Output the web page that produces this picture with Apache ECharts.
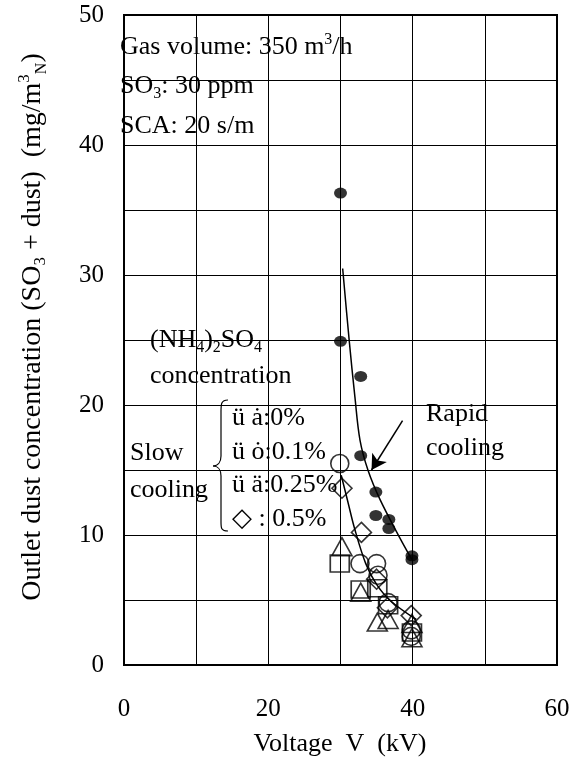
<!DOCTYPE html>
<html>
<head>
<meta charset="utf-8">
<script src="https://cdn.jsdelivr.net/npm/echarts@6/dist/echarts.min.js"></script>
<style>
  html, body { margin: 0; padding: 0; background: #fff; }
  #chart { width: 573px; height: 764px; }
</style>
</head>
<body>
<div id="chart"></div>
<script>
// Axis ticks
const xTickLabels = [0, 20, 40, 60];
const yTickLabels = [0, 10, 20, 30, 40, 50];

// Rapid cooling: measured points (voltage kV, outlet concentration mg/m3N)
const rapidV = [30, 30, 32.8, 32.8, 34.9, 34.9, 36.7, 36.7, 39.9, 39.9];
const rapidC = [36.3, 24.9, 22.2, 16.1, 13.3, 11.5, 11.2, 10.5, 8.4, 8.1];
// Rapid cooling trend curve
const rapidFitV = [30.3, 31.2, 32.0, 32.7, 33.8, 35.5, 38.2, 39.9];
const rapidFitC = [30.5, 25.0, 20.6, 17.3, 15.0, 12.7, 9.8, 8.1];

// Slow cooling, by (NH4)2SO4 concentration
const circleV = [29.9, 32.7, 35.0, 35.2, 36.6, 39.8, 39.8];   // 0%
const circleC = [15.5, 7.8, 7.8, 6.9, 4.8, 2.7, 2.2];
const squareV = [29.9, 32.8, 35.1, 36.6, 39.9];               // 0.1%
const squareC = [7.8, 5.8, 5.9, 4.6, 2.5];
const triV = [30.2, 32.8, 35.1, 36.6, 39.9, 39.9];            // 0.25%
const triC = [9.1, 5.6, 3.3, 3.5, 3.2, 2.1];
const diaV = [30.2, 32.9, 35.0, 36.5, 39.8];                  // 0.5%
const diaC = [13.6, 10.2, 6.6, 4.4, 3.8];
// Slow cooling trend curve
const slowFitV = [30.1, 31.0, 32.0, 33.5, 35.0, 37.0, 40.5];
const slowFitC = [14.6, 12.6, 10.4, 7.8, 6.2, 4.9, 3.5];

// Pointer from the "Rapid cooling" note to the curve
const arrowFrom = [38.6, 18.8];
const arrowTo = [34.3, 15.0];

const zip = (a, b) => a.map((v, i) => [v, b[i]]);
const FONT = '"Liberation Serif", "Times New Roman", serif';
const FS = 26;

const hollow = { color: 'rgba(0,0,0,0)', borderColor: '#000', borderWidth: 1.6 };

const chart = echarts.init(document.getElementById('chart'), null, { renderer: 'canvas' });

function richSet(size) {
  const small = Math.round(size * 0.6);
  return {
    a: { fontFamily: FONT, fontSize: size, color: '#000', lineHeight: size + 5 },
    sup: { fontFamily: FONT, fontSize: small, color: '#000', lineHeight: small, verticalAlign: 'top' },
    sub: { fontFamily: FONT, fontSize: small, color: '#000', lineHeight: small, verticalAlign: 'bottom' }
  };
}
const richBase = richSet(FS);

function note(x, y, text, extra) {
  return {
    type: 'text', x: x, y: y, z: 50,
    style: Object.assign({
      text: text, fontFamily: FONT, fontSize: FS, fill: '#000',
      align: 'left', verticalAlign: 'middle', rich: richBase
    }, extra || {})
  };
}

// Curly brace grouping the slow-cooling key entries
const braceStroke = { fill: 'none', stroke: '#000', lineWidth: 1.2 };
function bez(x1, y1, cx1, cy1, cx2, cy2, x2, y2) {
  return { type: 'bezierCurve', z: 50, shape: { x1, y1, cpx1: cx1, cpy1: cy1, cpx2: cx2, cpy2: cy2, x2, y2 }, style: braceStroke };
}
function seg(x1, y1, x2, y2) {
  return { type: 'line', z: 50, shape: { x1, y1, x2, y2 }, style: braceStroke };
}
const brace = [
  bez(228, 400, 221, 400, 221, 404, 221, 412),
  seg(221, 412, 221, 456),
  bez(221, 456, 221, 462, 218, 466, 213, 466),
  bez(213, 466, 218, 466, 221, 470, 221, 476),
  seg(221, 476, 221, 522),
  bez(221, 522, 221, 528, 221, 531, 228, 531)
];

const yTitleRich = richSet(28);
yTitleRich.subn = { fontFamily: FONT, fontSize: 16, color: '#000', lineHeight: 16, verticalAlign: 'bottom' };

const option = {
  animation: false,
  backgroundColor: '#fff',
  grid: { left: 124, right: 16, top: 15, bottom: 99, show: true, borderColor: '#000', borderWidth: 2 },
  xAxis: {
    type: 'value', min: 0, max: 60, interval: 10,
    axisLine: { show: true, onZero: false, lineStyle: { color: '#000', width: 2 } },
    axisTick: { show: false },
    splitLine: { show: true, lineStyle: { color: '#000', width: 1 } },
    axisLabel: {
      fontFamily: FONT, fontSize: 25, color: '#000', margin: 32,
      formatter: v => (xTickLabels.indexOf(v) >= 0 ? String(v) : '')
    }
  },
  yAxis: {
    type: 'value', min: 0, max: 50, interval: 5,
    axisLine: { show: true, onZero: false, lineStyle: { color: '#000', width: 2 } },
    axisTick: { show: false },
    splitLine: { show: true, lineStyle: { color: '#000', width: 1 } },
    axisLabel: {
      fontFamily: FONT, fontSize: 25, color: '#000', margin: 20,
      formatter: v => (yTickLabels.indexOf(v) >= 0 ? String(v) : '')
    }
  },
  series: [
    {
      name: 'rapid-fit', type: 'line', data: zip(rapidFitV, rapidFitC), smooth: 0.35,
      symbol: 'none', lineStyle: { color: '#000', width: 1.5 }, z: 3,
      markLine: {
        silent: true, symbol: ['none', 'arrow'], symbolSize: [13, 15],
        label: { show: false },
        lineStyle: { color: '#000', width: 1.5, type: 'solid' },
        data: [[{ coord: arrowFrom }, { coord: arrowTo }]]
      }
    },
    {
      name: 'slow-fit', type: 'line', data: zip(slowFitV, slowFitC), smooth: 0.35,
      symbol: 'none', lineStyle: { color: '#000', width: 1.5 }, z: 3
    },
    {
      name: 'rapid', type: 'scatter', data: zip(rapidV, rapidC),
      symbol: 'circle', symbolSize: [13, 11], itemStyle: { color: '#000' }, z: 5
    },
    {
      name: '0%', type: 'scatter', data: zip(circleV, circleC),
      symbol: 'circle', symbolSize: 18, itemStyle: hollow, z: 4
    },
    {
      name: '0.1%', type: 'scatter', data: zip(squareV, squareC),
      symbol: 'rect', symbolSize: [19, 17], itemStyle: hollow, z: 4
    },
    {
      name: '0.25%', type: 'scatter', data: zip(triV, triC),
      symbol: 'triangle', symbolSize: [20, 18], itemStyle: hollow, z: 4
    },
    {
      name: '0.5%', type: 'scatter', data: zip(diaV, diaC),
      symbol: 'diamond', symbolSize: 20, itemStyle: hollow, z: 4
    }
  ],
  graphic: [
    // Operating conditions
    note(120, 47, '{a|Gas volume: 350 m}{sup|3}{a|/h}'),
    note(120, 86, '{a|SO}{sub|3}{a|: 30 ppm}'),
    note(120, 126, '{a|SCA: 20 s/m}'),
    // Marker key
    note(150, 340, '{a|(NH}{sub|4}{a|)}{sub|2}{a|SO}{sub|4}'),
    note(150, 376, '{a|concentration}'),
    note(232, 418, '{a|ü ȧ:0%}'),
    note(232, 452, '{a|ü ȯ:0.1%}'),
    note(232, 485, '{a|ü ä:0.25%}'),
    note(232, 519, '{a|◇ : 0.5%}'),
    note(130, 453, '{a|Slow}'),
    note(130, 490, '{a|cooling}'),
    note(426, 414, '{a|Rapid}'),
    note(426, 448, '{a|cooling}'),
    // Axis titles
    note(340, 744, '{a|Voltage  V  (kV)}', { align: 'center' }),
    {
      type: 'text', x: 33, y: 327, rotation: Math.PI / 2, z: 50,
      style: {
        text: '{a|Outlet dust concentration (SO}{sub|3}{a| + dust)  (mg/m}{sup|3}{subn|N}{a|)}',
        align: 'center', verticalAlign: 'middle', fontFamily: FONT, fontSize: 28, fill: '#000',
        rich: yTitleRich
      }
    }
  ].concat(brace)
};

chart.setOption(option);
</script>
</body>
</html>
